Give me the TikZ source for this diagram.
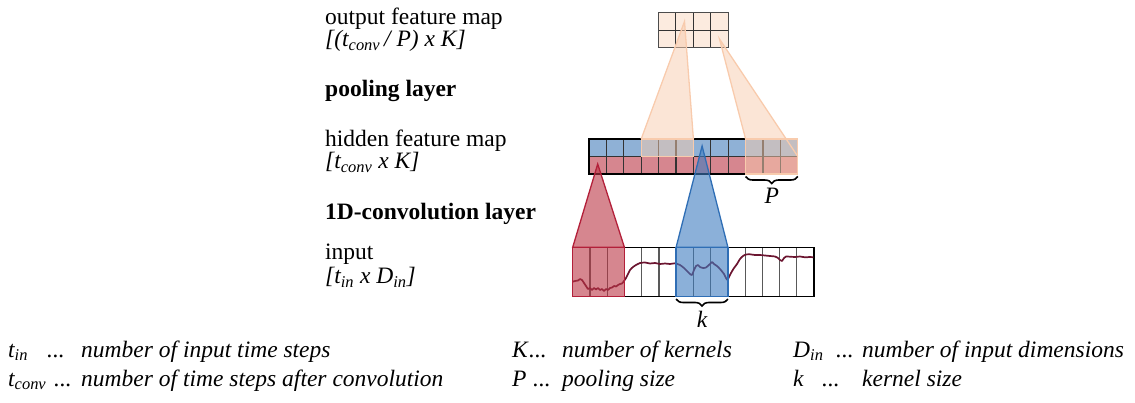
\documentclass[tikz,border=0pt]{standalone}
\usepackage{fontspec}
\setmainfont{Liberation Serif}
\usetikzlibrary{decorations.pathreplacing}
\definecolor{redfill}{HTML}{BB3544}
\definecolor{redline}{HTML}{B3203A}
\definecolor{bluefill}{HTML}{3E7CC0}
\definecolor{blueline}{HTML}{2F6EB5}
\definecolor{hidblue}{HTML}{8FB1D6}
\definecolor{hidred}{HTML}{D6868F}
\definecolor{poolfill}{HTML}{F8CBAD}
\definecolor{outfill}{HTML}{FCEBDF}
\definecolor{series}{HTML}{6B1530}
\tikzset{
  lbl/.style={anchor=base west, inner sep=0pt, font=\fontsize{23.5}{24}\selectfont},
  lbli/.style={lbl, font=\fontsize{23.5}{24}\selectfont\itshape},
  lblb/.style={lbl, font=\fontsize{23.5}{24}\selectfont\bfseries},
  gridln/.style={line width=1.2pt, draw=black!80},
  outerln/.style={line width=1.3pt, draw=black},
  convred/.style={fill=redfill, fill opacity=0.6, draw=redline, line width=1.3pt},
  convblue/.style={fill=bluefill, fill opacity=0.6, draw=blueline, line width=1.3pt},
  poolarea/.style={fill=poolfill, fill opacity=0.5},
  poolline/.style={draw=poolfill, line width=1.3pt},
  bracedeco/.style={decorate, decoration={brace, mirror, amplitude=7pt}, line width=1.6pt},
}
\begin{document}
\begin{tikzpicture}[x=1pt,y=-1pt]
\useasboundingbox (0,0) rectangle (1135,403);

% ---------- output feature map ----------
\fill[outfill] (658.3,12.7) rectangle (728.3,47.7);
\foreach \i in {1,2,3} \draw[gridln] ({658.3+\i*17.5},12.7) -- ({658.3+\i*17.5},47.7);
\draw[gridln] (658.3,30.2) -- (728.3,30.2);
\draw[gridln, draw=black!70] (658.3,12.7) rectangle (728.3,47.7);

% ---------- hidden feature map ----------
\fill[hidblue] (589,139) rectangle (797.8,156.5);
\fill[hidred] (589,156.5) rectangle (797.8,174);
\foreach \i in {1,...,11} \draw[gridln] ({589+\i*17.4},139) -- ({589+\i*17.4},174);
\draw[gridln] (589,156.5) -- (797.8,156.5);
\draw[outerln] (589,139) rectangle (797.8,174);

% ---------- input ----------
\foreach \i in {1,...,13} \draw[gridln, draw=black!65] ({572.7+\i*17.24},247.3) -- ({572.7+\i*17.24},296.7);
\draw[outerln] (572.7,247.3) rectangle (814.1,296.7);

% time series
\draw[series, line width=1.7pt, line join=round] plot[smooth, tension=0.3] coordinates {
(572.7,281.7) (575,281) (578,280.5) (580,279) (582,280) (584,283) (586,286) (588,289) (590,288) (592,290) (594,288) (596,289.5) (598,288) (600,290) (602,289) (604,291) (606,289) (608,290) (610,288) (612,287.5) (614,286) (616,286.5) (618,285) (620,284) (622,283.5) (624,281) (626,278) (628,274) (630,270) (633,267) (636,265) (640,263) (645,262.5) (650,263.5) (655,263) (660,264) (665,263.5) (670,264) (675,263.3) (680,265) (684,268) (688,272) (690,274) (692,275) (694,270) (696,266) (698,265) (700,267) (703,268) (706,267.5) (710,264) (712,262) (714,264) (717,266) (720,269) (724,274) (726,278) (727.5,280) (729,277) (731,273) (734,268) (737,264) (740,259) (743,256) (746,254.5) (750,254.3) (755,255) (760,255) (765,255.5) (770,256) (775,256.5) (778,258) (780,260) (782,261) (784,258) (786,256.5) (790,256.7) (795,257) (800,256.5) (805,257.3) (810,257) (813.3,257.3)};

% ---------- convolution kernels ----------
\draw[convred] (572.7,247.3) rectangle (624.4,296.7);
\draw[convred] (572.7,247.3) -- (597.7,164) -- (624.4,247.3) -- cycle;
\draw[convblue] (676.1,247.3) rectangle (727.9,296.7);
\draw[convblue] (676.1,247.3) -- (702.1,146) -- (727.9,247.3) -- cycle;

% ---------- pooling ----------
\fill[poolarea] (641.2,156.5) -- (641.2,139) -- (684.5,21.5) -- (693.4,139) -- (693.4,156.5) -- cycle;
\draw[poolline] (641.2,139) rectangle (693.4,156.5);
\draw[poolline] (641.2,139) -- (684.5,21.5) -- (693.4,139);
\fill[poolarea] (745.6,174) -- (745.6,139) -- (719.5,39) -- (786.1,139) -- (797.8,139) -- (797.8,174) -- cycle;
\draw[poolline] (745.6,139) rectangle (797.8,174);
\draw[poolline] (745.6,139) -- (719.5,39) -- (797.8,156.5);

% ---------- braces ----------
\coordinate (kL) at (676.1,299);
\coordinate (kR) at (727.9,299);
\draw[bracedeco] (kL) -- (kR);
\node[lbli, anchor=base] (klbl) at (702,327) {k};
\coordinate (pL) at (745.6,176.5);
\coordinate (pR) at (797.8,176.5);
\draw[bracedeco] (pL) -- (pR);
\node[lbli, anchor=base] (plbl) at (771.7,204) {P};

% ---------- layer labels ----------
\node[lbl] (outt) at (325,25) {output feature map};
\node[lbli] (outd) at (325,46.5) {[(t\textsubscript{conv}\,/ P) x K]};
\node[lblb] (pool) at (325,97) {pooling layer};
\node[lbl] (hidt) at (325,147) {hidden feature map};
\node[lbli] (hidd) at (325,168.5) {[t\textsubscript{conv} x K]};
\node[lblb] (conv) at (325,220) {1D-convolution layer};
\node[lbl] (inpt) at (325,260) {input};
\node[lbli] (inpd) at (325,284) {[t\textsubscript{in} x D\textsubscript{in}]};

% ---------- legend ----------
\node[lbli] (s1) at (8,357) {t\textsubscript{in}};
\node[lbli] (d1) at (47,357) {...};
\node[lbli] (e1) at (81,357) {number of input time steps};
\node[lbli] (s2) at (8,386) {t\textsubscript{conv}};
\node[lbli] (d2) at (54,386) {...};
\node[lbli] (e2) at (81,386) {number of time steps after convolution};
\node[lbli] (s3) at (512,357) {K};
\node[lbli] (d3) at (529,357) {...};
\node[lbli] (e3) at (562,357) {number of kernels};
\node[lbli] (s4) at (512,386) {P};
\node[lbli] (d4) at (533,386) {...};
\node[lbli] (e4) at (562,386) {pooling size};
\node[lbli] (s5) at (793,357) {D\textsubscript{in}};
\node[lbli] (d5) at (836,357) {...};
\node[lbli] (e5) at (862,357) {number of input dimensions};
\node[lbli] (s6) at (793,386) {k};
\node[lbli] (d6) at (822,386) {...};
\node[lbli] (e6) at (862,386) {kernel size};
\end{tikzpicture}
\end{document}
